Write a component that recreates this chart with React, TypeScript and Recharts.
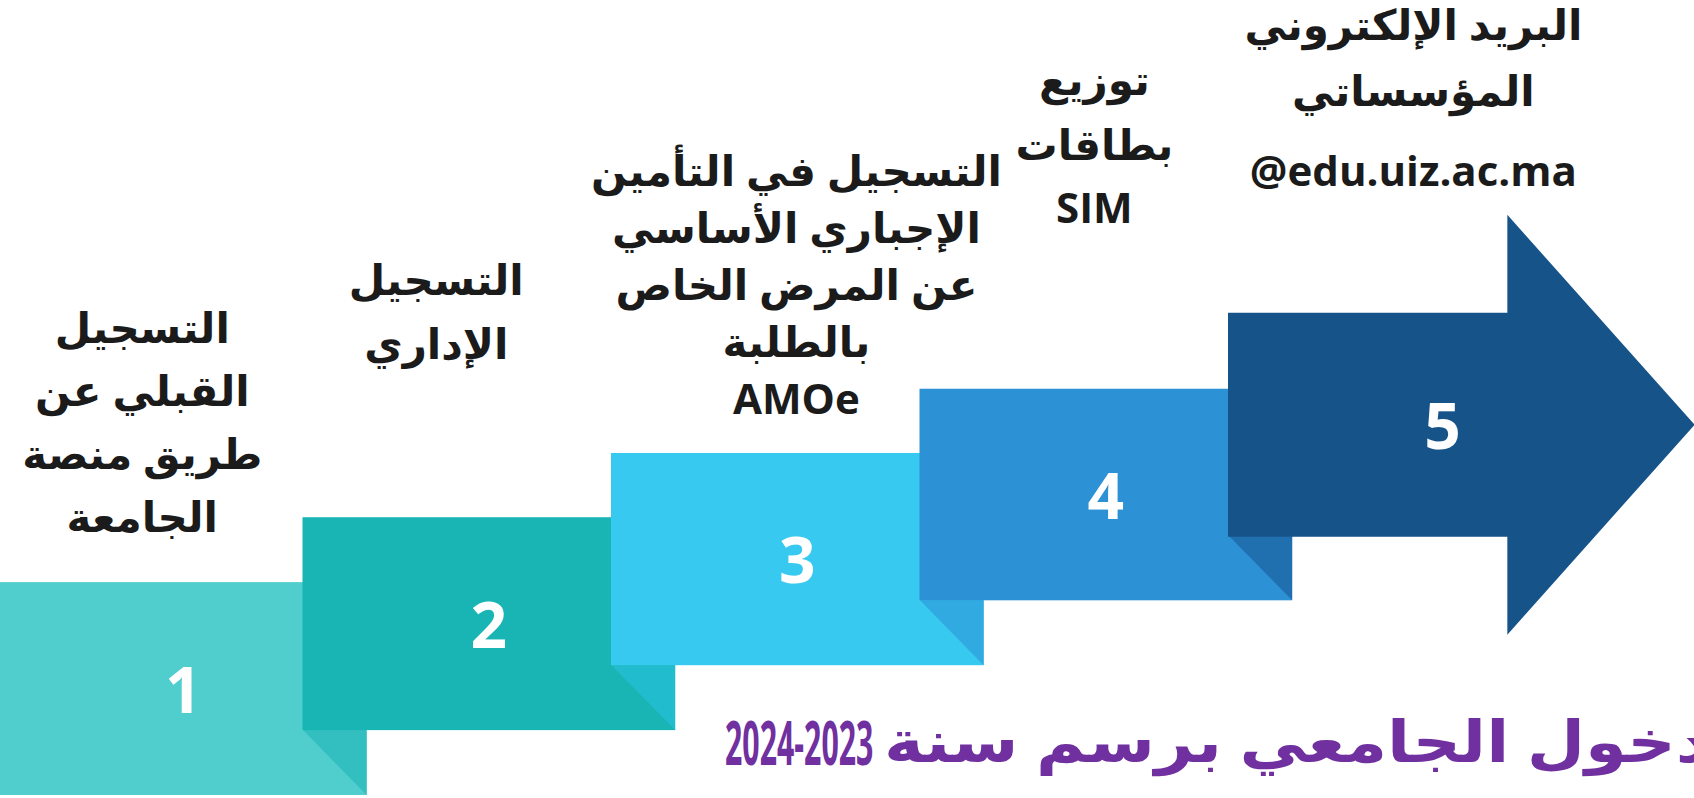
import React from 'react';
import { BarChart, Bar, XAxis, YAxis } from 'recharts';

// step numbers, floating ranges (in "step levels") and the captions above them
const steps = ['1', '2', '3', '4', '5'];
const stepBase = [0, 1, 2, 3, 3.98];
const stepTop = [3.28, 4.28, 5.27, 6.26, 7.43];
const stepLabels = [
    ['التسجيل', 'القبلي عن', 'طريق منصة', 'الجامعة'],
    ['التسجيل', 'الإداري'],
    ['التسجيل في التأمين', 'الإجباري الأساسي', 'عن المرض الخاص', 'بالطلبة', 'AMOe'],
    ['توزيع', 'بطاقات', 'SIM'],
    ['البريد الإلكتروني', 'المؤسساتي', '@edu.uiz.ac.ma'],
];
const titleWords = 'الدخول الجامعي برسم سنة';
const titleYear = '2023-2024';

const data = steps.map((s, i) => ({ name: s, range: [stepBase[i], stepTop[i]] }));

const MAIN = ['#50CDCD', '#19B5B5', '#38C9F0', '#2D91D6', '#165389'];
const FOLD = ['#33BFBF', '#22BCCF', '#30AAE0', '#2070B0'];

// caption placement: centre as a share of the band, first baseline as a level, line gaps in px
const LABEL_LAYOUT = [
    { cx: 0.48, level: 6.96, gaps: [63, 63, 63] },
    { cx: 0.433, level: 7.7, gaps: [64] },
    { cx: 0.6, level: 9.38, gaps: [57, 57, 57, 57] },
    { cx: 0.566, level: 10.79, gaps: [65, 63] },
    { cx: 0.6, level: 11.63, gaps: [66, 80] },
];

const OVERLAP = 1.206;
const ARROW_BODY = 0.904;
const ARROW_TIP = 1.51;
const ARROW_WING = 1.51;
const LABEL_FONT = "'Open Sans', 'DejaVu Sans', sans-serif";

const StepShape = (props: any) => {
    const { x, y, width, height, index } = props;
    const top = Math.min(y, y + height);
    const h = Math.abs(height);
    const bottom = top + h;
    const unit = h / (stepTop[index] - stepBase[index]);
    const isLast = index === steps.length - 1;
    const w = width * OVERLAP;
    const lay = LABEL_LAYOUT[index];
    const labelX = x + width * lay.cx;
    let baseY = bottom - (lay.level - stepBase[index]) * unit;
    const lines = stepLabels[index].map((t, k) => {
        const yy = baseY;
        if (k < lay.gaps.length) baseY += lay.gaps[k];
        return (
            <text key={k} x={labelX} y={yy} textAnchor="middle" fontFamily={LABEL_FONT}
                fontWeight={700} fontSize={42} fill="#1b1b1b">{t}</text>
        );
    });

    let body;
    let numX;
    if (isLast) {
        const bx = x + width * ARROW_BODY;
        const tx = x + width * ARROW_TIP;
        const wing = ARROW_WING * unit;
        const pts = [
            [x, top], [bx, top], [bx, top - wing], [tx, (top + bottom) / 2],
            [bx, bottom + wing], [bx, bottom], [x, bottom],
        ].map((p) => p.join(',')).join(' ');
        body = <polygon points={pts} fill={MAIN[index]} />;
        numX = x + width * 0.694;
    } else {
        const fold = [
            [x + width, bottom - unit], [x + w, bottom - unit], [x + w, bottom],
        ].map((p) => p.join(',')).join(' ');
        body = (
            <g>
                <rect x={x} y={top} width={w} height={h} fill={MAIN[index]} />
                <polygon points={fold} fill={FOLD[index]} />
            </g>
        );
        numX = x + w / 2 + (index === 0 ? 3 : 0);
    }

    return (
        <g>
            {body}
            <text x={numX} y={(top + bottom) / 2 + 24} textAnchor="middle" fontFamily="'Open Sans', sans-serif"
                fontWeight={700} fontSize={64} fill="#ffffff">{steps[index]}</text>
            {lines}
        </g>
    );
};

const titleBase: React.CSSProperties = {
    position: 'absolute', whiteSpace: 'nowrap', color: '#7030A0', fontWeight: 700,
    fontFamily: "'Open Sans', 'DejaVu Sans', sans-serif", transformOrigin: 'left top', direction: 'rtl',
};

const App: React.FC = () => {
    return (
        <div style={{ position: 'absolute', left: 0, top: 0, width: 1694, height: 798, overflow: 'hidden', background: '#ffffff' }}>
            <BarChart width={1694} height={798} data={data} barCategoryGap={0}
                margin={{ top: 0, right: 157.5, bottom: 3, left: -6 }}>
                <XAxis dataKey="name" hide />
                <YAxis type="number" domain={[0, 12.25]} hide />
                <Bar dataKey="range" shape={StepShape} isAnimationActive={false} />
            </BarChart>
            {/* the year is laid out right-to-left, as it sits inside the Arabic line */}
            <div style={{ ...titleBase, left: 725, top: 704, fontSize: 60, lineHeight: '76px', transform: 'scaleX(0.505)' }}>
                {'\u061C' + titleYear}
            </div>
            <div style={{ ...titleBase, left: 884, top: 700, fontSize: 58, lineHeight: '80px', transform: 'scaleX(1.16)' }}>
                {titleWords}
            </div>
        </div>
    );
};

export default App;
